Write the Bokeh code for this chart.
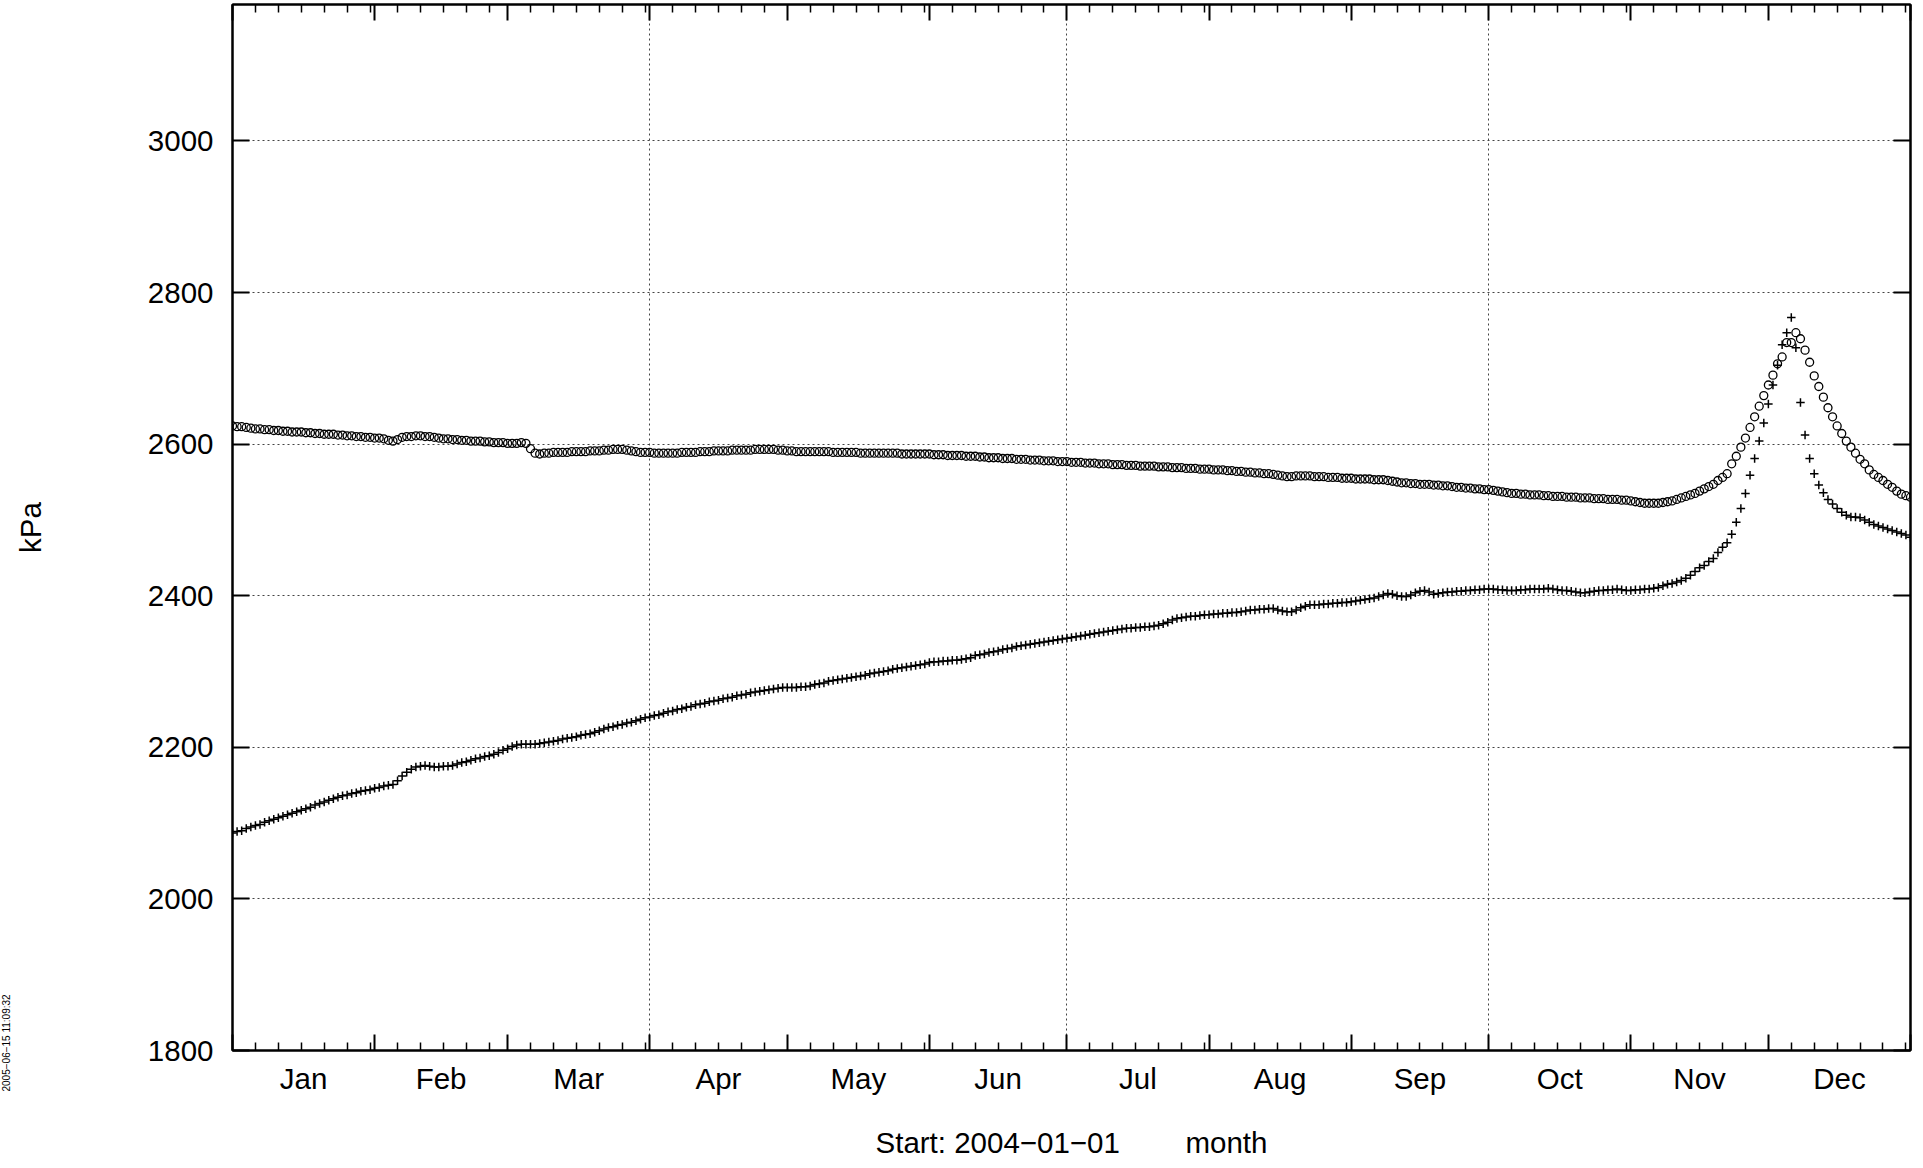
import math
from bokeh.plotting import figure
from bokeh.models import (LinearAxis, FixedTicker, Range1d, Grid, Title,
                          CustomLabelingPolicy)
from bokeh.embed import file_html
from bokeh.resources import INLINE

# ---------------- data ----------------
month_names = ["Jan", "Feb", "Mar", "Apr", "May", "Jun",
               "Jul", "Aug", "Sep", "Oct", "Nov", "Dec"]
month_days = [31, 29, 31, 30, 31, 30, 31, 31, 30, 31, 30, 31]
y_ticks = [1800, 2000, 2200, 2400, 2600, 2800, 3000]
grid_days = [91, 182, 274]          # Apr 1, Jul 1, Oct 1
y_label = "kPa"
x_title = "Start: 2004\u221201\u221201" + "\u00a0" * 8 + "month"
stamp = "2005\u221206\u221215 11:09:32"

days = list(range(367))

upper = [
    2624, 2623, 2623, 2622, 2621, 2620, 2620, 2619, 2619, 2618,
    2618, 2617, 2617, 2616, 2616, 2616, 2615, 2615, 2614, 2614,
    2613, 2613, 2613, 2612, 2612, 2611, 2611, 2610, 2610, 2609,
    2609, 2608, 2608, 2607, 2605, 2604, 2606, 2609, 2610, 2610,
    2611, 2611, 2610, 2610, 2609, 2608, 2607, 2607, 2606, 2606,
    2605, 2605, 2604, 2604, 2604, 2603, 2603, 2602, 2602, 2602,
    2601, 2601, 2601, 2602, 2601, 2594, 2588, 2587, 2588, 2588,
    2589, 2589, 2589, 2589, 2590, 2590, 2590, 2590, 2591, 2591,
    2591, 2592, 2592, 2593, 2593, 2593, 2592, 2591, 2590, 2589,
    2589, 2589, 2588, 2588, 2588, 2588, 2588, 2588, 2589, 2589,
    2589, 2589, 2590, 2590, 2590, 2591, 2591, 2591, 2591, 2592,
    2592, 2592, 2592, 2592, 2593, 2593, 2593, 2593, 2593, 2592,
    2592, 2591, 2591, 2590, 2590, 2590, 2590, 2590, 2590, 2590,
    2590, 2589, 2589, 2589, 2589, 2589, 2589, 2588, 2588, 2588,
    2588, 2588, 2588, 2588, 2588, 2588, 2587, 2587, 2587, 2587,
    2587, 2587, 2587, 2586, 2586, 2586, 2585, 2585, 2585, 2585,
    2584, 2584, 2584, 2583, 2583, 2582, 2582, 2582, 2581, 2581,
    2581, 2580, 2580, 2580, 2579, 2579, 2579, 2578, 2578, 2578,
    2577, 2577, 2577, 2576, 2576, 2576, 2575, 2575, 2575, 2574,
    2574, 2574, 2573, 2573, 2573, 2572, 2572, 2572, 2571, 2571,
    2571, 2571, 2570, 2570, 2570, 2569, 2569, 2569, 2568, 2568,
    2568, 2567, 2567, 2567, 2566, 2566, 2566, 2565, 2565, 2564,
    2564, 2563, 2563, 2562, 2562, 2561, 2561, 2560, 2559, 2558,
    2557, 2557, 2558, 2558, 2558, 2558, 2557, 2557, 2557, 2556,
    2556, 2556, 2555, 2555, 2555, 2554, 2554, 2554, 2554, 2553,
    2553, 2553, 2552, 2551, 2550, 2549, 2549, 2548, 2548, 2547,
    2547, 2547, 2546, 2546, 2545, 2545, 2544, 2543, 2543, 2542,
    2542, 2541, 2541, 2540, 2540, 2539, 2538, 2537, 2536, 2535,
    2535, 2534, 2534, 2533, 2533, 2533, 2532, 2532, 2531, 2531,
    2531, 2530, 2530, 2530, 2529, 2529, 2529, 2528, 2528, 2528,
    2527, 2527, 2527, 2526, 2526, 2525, 2524, 2523, 2522, 2522,
    2522, 2522, 2523, 2524, 2525, 2527, 2529, 2531, 2533, 2535,
    2538, 2541, 2544, 2547, 2552, 2556, 2561, 2574, 2584, 2596,
    2608, 2622, 2636, 2650, 2664, 2678, 2691, 2706, 2715, 2734,
    2734, 2747, 2739, 2724, 2708, 2690, 2676, 2662, 2648, 2636,
    2624, 2614, 2604, 2596, 2588, 2580, 2574, 2566, 2560, 2556,
    2552, 2547, 2543, 2538, 2534, 2532, 2530,
]

lower = [
    2087, 2089, 2090, 2093, 2095, 2097, 2098, 2101, 2103, 2105,
    2107, 2109, 2111, 2113, 2115, 2117, 2119, 2121, 2124, 2126,
    2128, 2130, 2132, 2134, 2136, 2137, 2139, 2140, 2142, 2143,
    2144, 2146, 2147, 2149, 2150, 2151, 2156, 2162, 2167, 2171,
    2174, 2175, 2176, 2175, 2174, 2174, 2175, 2175, 2176, 2178,
    2180, 2181, 2183, 2185, 2186, 2188, 2189, 2191, 2193, 2196,
    2198, 2201, 2203, 2204, 2204, 2204, 2204, 2205, 2206, 2207,
    2208, 2209, 2211, 2212, 2213, 2214, 2216, 2217, 2218, 2220,
    2222, 2224, 2226, 2227, 2229, 2230, 2232, 2233, 2235, 2237,
    2239, 2240, 2242, 2243, 2245, 2247, 2248, 2250, 2251, 2253,
    2254, 2256, 2257, 2258, 2260, 2261, 2262, 2264, 2265, 2266,
    2268, 2269, 2270, 2272, 2273, 2274, 2275, 2276, 2277, 2278,
    2279, 2279, 2279, 2279, 2280, 2280, 2281, 2283, 2284, 2285,
    2287, 2288, 2289, 2290, 2291, 2292, 2293, 2294, 2295, 2297,
    2298, 2299, 2300, 2301, 2303, 2304, 2305, 2306, 2307, 2308,
    2309, 2310, 2312, 2313, 2313, 2314, 2314, 2315, 2315, 2316,
    2317, 2318, 2321, 2322, 2323, 2325, 2326, 2327, 2329, 2330,
    2331, 2333, 2334, 2335, 2336, 2337, 2338, 2339, 2340, 2341,
    2342, 2343, 2344, 2345, 2346, 2347, 2348, 2349, 2350, 2351,
    2352, 2353, 2354, 2355, 2356, 2357, 2357, 2358, 2358, 2359,
    2359, 2360, 2361, 2363, 2365, 2368, 2370, 2371, 2372, 2373,
    2373, 2374, 2375, 2375, 2376, 2376, 2377, 2377, 2378, 2378,
    2379, 2380, 2381, 2381, 2382, 2382, 2383, 2383, 2381, 2380,
    2379, 2379, 2381, 2384, 2386, 2388, 2388, 2388, 2389, 2389,
    2390, 2390, 2391, 2391, 2392, 2393, 2394, 2395, 2396, 2397,
    2399, 2401, 2403, 2402, 2400, 2399, 2399, 2401, 2404, 2406,
    2407, 2405, 2402, 2403, 2404, 2405, 2405, 2406, 2406, 2407,
    2407, 2408, 2408, 2409, 2409, 2409, 2408, 2408, 2407, 2407,
    2407, 2408, 2408, 2409, 2409, 2409, 2409, 2410, 2409, 2408,
    2407, 2407, 2406, 2405, 2404, 2404, 2405, 2406, 2407, 2407,
    2408, 2408, 2409, 2408, 2407, 2407, 2408, 2408, 2409, 2409,
    2410, 2411, 2413, 2415, 2416, 2418, 2420, 2423, 2427, 2432,
    2437, 2440, 2445, 2449, 2457, 2464, 2470, 2481, 2497, 2515,
    2535, 2559, 2581, 2604, 2628, 2653, 2678, 2704, 2731, 2747,
    2767, 2727, 2655, 2612, 2581, 2561, 2546, 2536, 2527, 2521,
    2515, 2510, 2506, 2504, 2504, 2503, 2500, 2497, 2494, 2492,
    2490, 2488, 2486, 2484, 2482, 2480, 2477,
]

# ---------------- tick positions ----------------
FONT = "Liberation Sans"
FS = "29.5px"
starts = []
acc = 0
for n in month_days:
    starts.append(acc)
    acc += n
starts.append(acc)
mids = [s + n / 2 for s, n in zip(starts, month_days)]
minors = []
for s, n in zip(starts, month_days):
    k = 5
    while k < n:
        minors.append(s + k)
        k += 5

p = figure(frame_width=1678, frame_height=1046,
           x_range=Range1d(0, 366), y_range=Range1d(1800, 3180),
           x_axis_type=None, y_axis_type=None,
           output_backend="svg", toolbar_location=None,
           min_border_left=226, min_border_right=4,
           min_border_top=4, min_border_bottom=0)
p.outline_line_color = "black"
p.outline_line_width = 2
p.background_fill_color = "white"
p.border_fill_color = "white"

# grids
p.add_layout(Grid(dimension=0, ticker=FixedTicker(ticks=grid_days),
                  grid_line_color="#444444", grid_line_dash="2 3",
                  grid_line_width=1))
p.add_layout(Grid(dimension=1, ticker=FixedTicker(ticks=y_ticks[1:]),
                  grid_line_color="#444444", grid_line_dash="2 3",
                  grid_line_width=1))


def tick_axis(ticker, tick_in, minor_in=0):
    return LinearAxis(ticker=ticker,
                      major_tick_in=tick_in, major_tick_out=0,
                      minor_tick_in=minor_in, minor_tick_out=0,
                      major_tick_line_width=2, minor_tick_line_width=1.5,
                      axis_line_width=2,
                      major_label_text_font_size="0px",
                      major_label_standoff=0,
                      major_label_policy=CustomLabelingPolicy(code="return []"))


p.add_layout(tick_axis(FixedTicker(ticks=starts, minor_ticks=minors), 16, 8), "below")

xl = LinearAxis(ticker=FixedTicker(ticks=mids),
                major_label_overrides={m: name for m, name in zip(mids, month_names)},
                major_tick_line_color=None, minor_tick_line_color=None,
                axis_line_color=None,
                major_label_text_font=FONT, major_label_text_font_size=FS,
                major_label_text_color="black",
                major_label_standoff=5,
                axis_label=x_title, axis_label_text_font=FONT,
                axis_label_text_font_size=FS,
                axis_label_text_font_style="normal",
                axis_label_text_color="black",
                axis_label_standoff=28)
p.add_layout(xl, "below")

p.add_layout(tick_axis(FixedTicker(ticks=starts, minor_ticks=minors), 16, 8), "above")
p.add_layout(tick_axis(FixedTicker(ticks=y_ticks), 17), "right")

yl = LinearAxis(ticker=FixedTicker(ticks=y_ticks),
                major_tick_in=17, major_tick_out=0,
                minor_tick_line_color=None,
                major_tick_line_width=2, axis_line_width=2,
                major_label_text_font=FONT, major_label_text_font_size=FS,
                major_label_text_color="black",
                major_label_standoff=19,
                axis_label=y_label, axis_label_text_font=FONT,
                axis_label_text_font_size=FS,
                axis_label_text_font_style="normal",
                axis_label_text_color="black",
                axis_label_standoff=98)
p.add_layout(yl, "left")

# plot timestamp, outermost on the left, near the bottom
p.add_layout(Title(text=stamp, align="left", text_font=FONT,
                   text_font_size="10px", text_font_style="normal",
                   text_color="black", standoff=-3, offset=-41), "left")

# series
p.scatter(days, lower, marker="cross", size=8.5, line_color="black", line_width=1.5)
p.scatter(days, upper, marker="circle", size=8, fill_color=None,
          line_color="black", line_width=1.3)

open("out.html", "w").write(file_html(p, INLINE))
